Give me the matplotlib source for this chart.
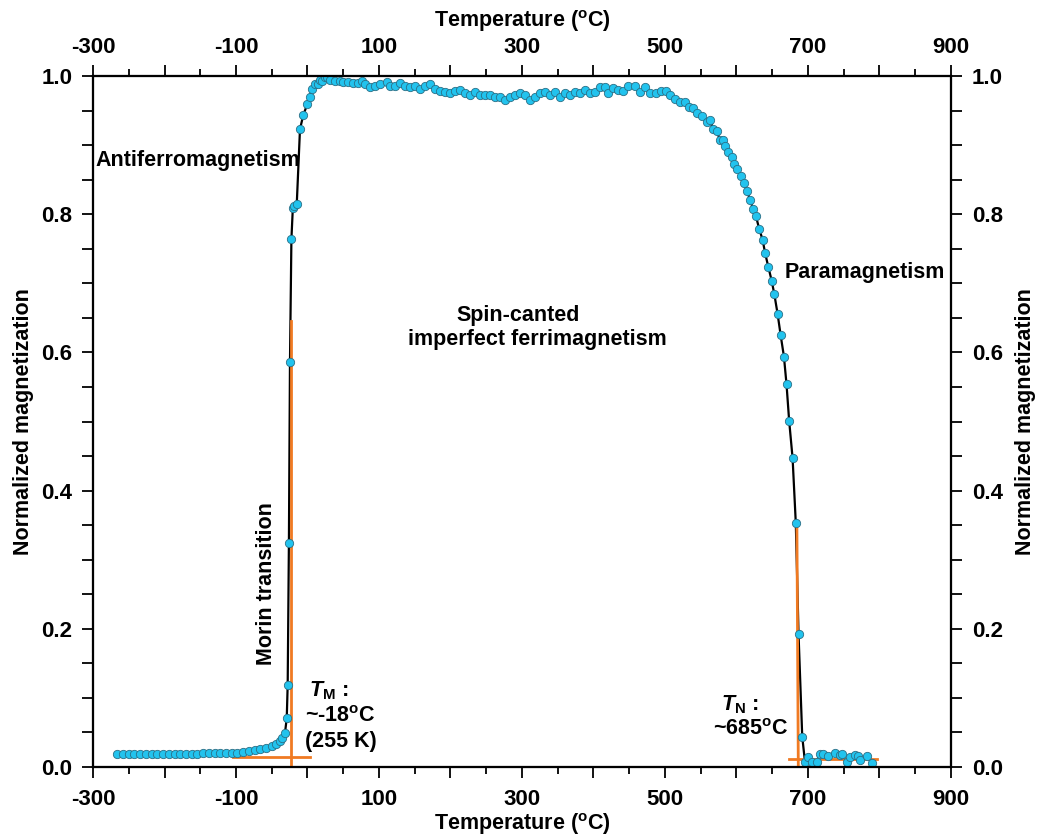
import numpy as np
import matplotlib
matplotlib.use("Agg")
import matplotlib.pyplot as plt
from matplotlib.ticker import MultipleLocator, FuncFormatter

plt.rcParams['font.family'] = ['Liberation Sans', 'DejaVu Sans']
plt.rcParams['font.weight'] = 'bold'
plt.rcParams['mathtext.fontset'] = 'custom'
plt.rcParams['mathtext.rm'] = 'Liberation Sans:bold'
plt.rcParams['mathtext.bf'] = 'Liberation Sans:bold'
plt.rcParams['mathtext.it'] = 'Liberation Sans:bold:italic'

# Measured data (temperature in degC, normalized magnetization)
temp = [-266, -258, -250, -242, -234, -226, -218, -210, -202, -194, -186, -178,
        -170, -162, -154, -146, -138, -130, -122, -114, -106, -98, -90, -82,
        -74, -66, -58, -50, -44, -39, -35, -31.5, -29, -27.7, -26, -24.5,
        -22.5, -20.5, -19.5, -15, -10.5, -6, -0.3, 3.5, 6, 10.5, 15, 17.5,
        20, 24.5, 27, 31.5, 38.5, 45.5, 50, 57, 64, 71, 75.8, 80.4, 87.4, 94.4,
        101.4, 110.6, 115.4, 122.4, 129.4, 136.4, 143.4, 150.3, 157.3, 164.3,
        171.3, 178.3, 185.3, 192.3, 199.3, 206.3, 213.3, 220.3, 227.3, 234.3,
        241.3, 248.3, 255.2, 262.2, 269.2, 276.2, 283.2, 290.2, 297.2, 304.2,
        311.2, 318.2, 325.2, 332.2, 339.2, 346.2, 353.1, 360.1, 367.1, 374.1,
        381.1, 388.1, 395.1, 402.1, 409, 416, 420.7, 427.7, 434.5, 441.7, 448.7,
        458, 465, 472, 479, 488, 495, 502, 507, 514, 521, 528, 533, 539.6,
        544.4, 551.4, 558.3, 563, 567.6, 572.3, 577, 580.7, 584, 588.6, 593.3,
        597, 601, 607, 610.5, 615, 619, 623.5, 627.3, 632, 636.6, 640, 644.5,
        649.2, 653, 657.5, 661.8, 666.4, 670, 673.7, 678.5, 683, 686.8, 692,
        695.8, 700.5, 705, 712, 716.8, 721.4, 728.4, 737.8, 744.8, 747, 754,
        758.7, 765.7, 770.3, 772.7, 782, 790]
magn = [0.0188, 0.0188, 0.0187, 0.0187, 0.0187, 0.0187, 0.0188, 0.0188, 0.0189,
        0.0189, 0.0190, 0.0190, 0.0192, 0.0193, 0.0195, 0.0197, 0.0199, 0.0201,
        0.0203, 0.0205, 0.0207, 0.0210, 0.0218, 0.0228, 0.0240, 0.0258, 0.0280,
        0.0310, 0.0340, 0.0380, 0.0420, 0.049, 0.071, 0.119, 0.324, 0.586,
        0.764, 0.809, 0.812, 0.815, 0.923, 0.943, 0.959, 0.970, 0.981, 0.988,
        0.989, 0.994, 0.993, 0.998, 0.998, 0.994, 0.993, 0.993, 0.991, 0.991,
        0.990, 0.990, 0.993, 0.988, 0.984, 0.986, 0.989, 0.991, 0.986, 0.986,
        0.990, 0.986, 0.984, 0.986, 0.981, 0.986, 0.988, 0.981, 0.978, 0.977,
        0.976, 0.978, 0.980, 0.976, 0.973, 0.977, 0.973, 0.972, 0.972, 0.970,
        0.970, 0.966, 0.970, 0.972, 0.976, 0.972, 0.966, 0.970, 0.976, 0.977,
        0.973, 0.977, 0.970, 0.976, 0.973, 0.977, 0.976, 0.980, 0.976, 0.977,
        0.984, 0.984, 0.975, 0.982, 0.980, 0.978, 0.986, 0.986, 0.977, 0.984,
        0.976, 0.976, 0.978, 0.978, 0.973, 0.967, 0.963, 0.963, 0.955, 0.953,
        0.947, 0.942, 0.934, 0.936, 0.924, 0.920, 0.908, 0.907, 0.899, 0.890,
        0.883, 0.873, 0.866, 0.856, 0.845, 0.833, 0.821, 0.807, 0.797, 0.778,
        0.763, 0.744, 0.724, 0.704, 0.684, 0.656, 0.625, 0.594, 0.554, 0.501,
        0.447, 0.353, 0.193, 0.044, 0.0077, 0.015, 0.0077, 0.0077, 0.0188,
        0.0188, 0.0164, 0.0198, 0.0174, 0.0188, 0.0077, 0.015, 0.017, 0.016,
        0.010, 0.016, 0.0063]

# Tangent construction lines for the two transitions
morin_vx = [-23.1, -23.1]
morin_vy = [0.645, 0.003]
morin_hx = [-104, 3.5]
morin_hy = [0.0145, 0.0145]
neel_vx = [684.5, 686.5]
neel_vy = [0.355, 0.0]
neel_hx = [673.4, 796]
neel_hy = [0.0116, 0.0116]

orange = '#F07A22'
cyan = '#22C3EE'

fig = plt.figure(figsize=(10.45, 8.38), dpi=100)
ax = fig.add_axes([0.089, 0.0847, 0.821, 0.8246])

ax.plot(temp, magn, color='black', lw=1.6, zorder=2)
ax.plot(morin_vx, morin_vy, color=orange, lw=2, zorder=3)
ax.plot(morin_hx, morin_hy, color=orange, lw=2, zorder=3)
ax.plot(neel_vx, neel_vy, color=orange, lw=2, zorder=3)
ax.plot(neel_hx, neel_hy, color=orange, lw=2, zorder=3)
ax.plot(temp, magn, 'o', ms=6, mfc=cyan, mec='#2b6f86', mew=0.6, zorder=4)

ax.set_xlim(-300, 900)
ax.set_ylim(0, 1.0)

xfmt = FuncFormatter(lambda v, p: '%d' % v if int(round(v)) % 200 != 0 else '')
ax2 = ax.twiny()
ay2 = ax.twinx()
ax2.set_xlim(ax.get_xlim())
ay2.set_ylim(ax.get_ylim())

for a in (ax, ax2):
    a.xaxis.set_major_locator(MultipleLocator(100))
    a.xaxis.set_minor_locator(MultipleLocator(50))
    a.xaxis.set_major_formatter(xfmt)
for a in (ax, ay2):
    a.yaxis.set_major_locator(MultipleLocator(0.2))
    a.yaxis.set_minor_locator(MultipleLocator(0.05))
    a.yaxis.set_major_formatter(FuncFormatter(lambda v, p: '%.1f' % v))

for a in (ax, ax2, ay2):
    a.tick_params(which='major', direction='out', length=8, width=1.3,
                  labelsize=16, pad=7)
    a.tick_params(which='minor', direction='out', length=5, width=1.3)
    for s in a.spines.values():
        s.set_linewidth(1.5)
ax.tick_params(axis='y', which='minor', length=8)
ay2.tick_params(axis='y', which='minor', length=8)
ax.tick_params(axis='x', which='major', pad=8)
ax2.tick_params(axis='x', which='major', pad=5)

xlabel = r'Temperature ($^{\mathbf{o}}$C)'
ax.set_xlabel(xlabel, fontsize=15.5, fontweight='bold', labelpad=0.5)
ax2.set_xlabel(xlabel, fontsize=15.5, fontweight='bold', labelpad=7)
ax.set_ylabel('Normalized magnetization', fontsize=15.5, fontweight='bold', labelpad=5)
ay2.set_ylabel('Normalized magnetization', fontsize=15.5, fontweight='bold',
               labelpad=9, rotation=90)

tk = dict(fontsize=15.5, fontweight='bold', color='black')
ax.text(-297, 0.878, 'Antiferromagnetism', ha='left', va='center', **tk)
ax.text(668, 0.716, 'Paramagnetism', ha='left', va='center', **tk)
ax.text(295, 0.654, 'Spin-canted', ha='center', va='center', **tk)
ax.text(322, 0.619, 'imperfect ferrimagnetism', ha='center', va='center', **tk)
ax.text(-58, 0.266, 'Morin transition', ha='center', va='center', rotation=90, **tk)
ax.text(2, 0.111, r'$\mathit{T}_{\mathbf{M}}$ :', ha='left', va='center', **tk)
ax.text(-3.5, 0.073, r'~-18$^{\mathbf{o}}$C', ha='left', va='center', **tk)
ax.text(-3.5, 0.037, '(255 K)', ha='left', va='center', **tk)
ax.text(578, 0.090, r'$\mathit{T}_{\mathbf{N}}$ :', ha='left', va='center', **tk)
ax.text(566.7, 0.054, r'~685$^{\mathbf{o}}$C', ha='left', va='center', **tk)

fig.savefig('out.png', dpi=100)
